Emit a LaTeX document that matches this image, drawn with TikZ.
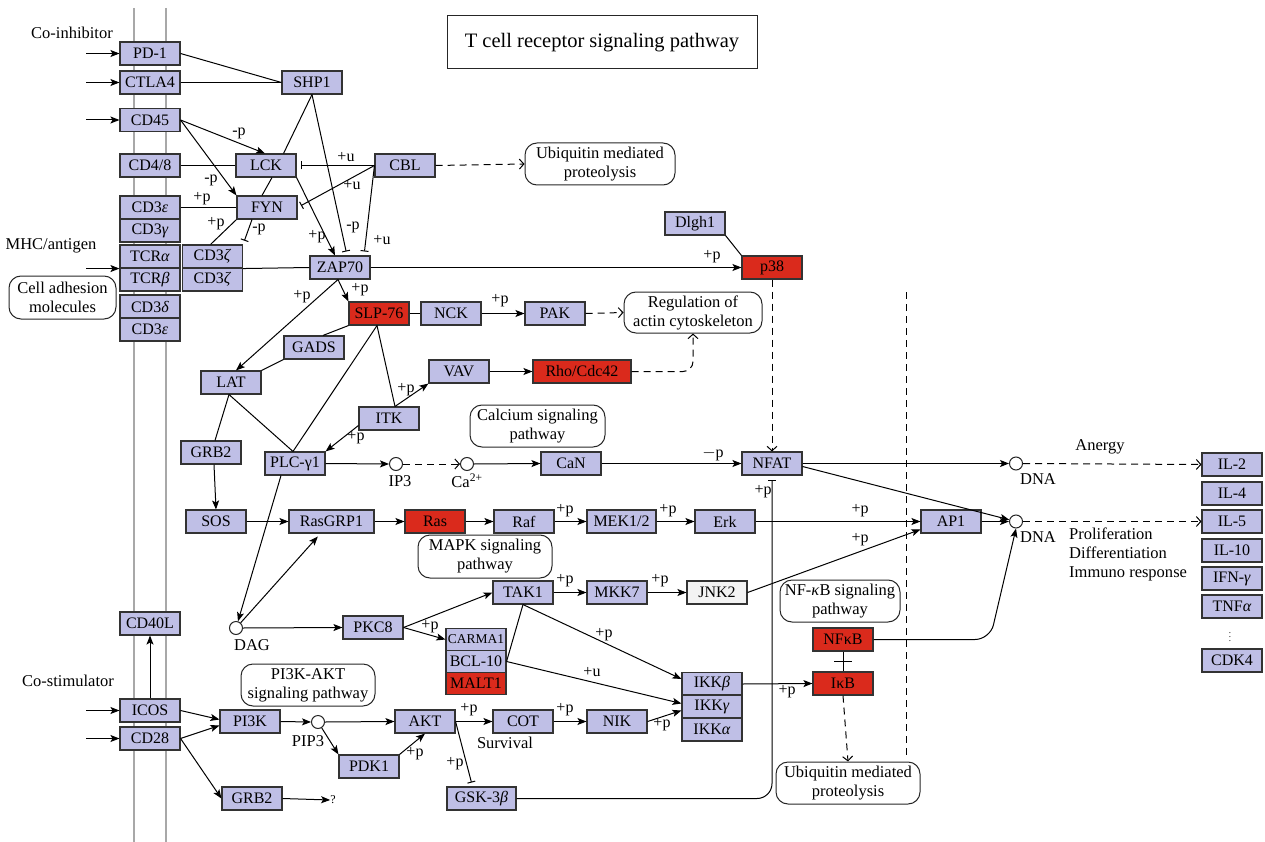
\documentclass[tikz,border=0pt]{standalone}
\usepackage{fontspec}
\setmainfont{Liberation Serif}
\usetikzlibrary{arrows.meta}
\definecolor{genefill}{HTML}{BFBFE6}
\definecolor{hitfill}{HTML}{DA2A1C}
\definecolor{palefill}{HTML}{F3F3F3}
\definecolor{membrane}{HTML}{A8A8A8}
\tikzset{
  gene/.style={draw=black!80, line width=1.1, fill=genefill, minimum width=60, minimum height=23, inner sep=1, font=\fontsize{16}{16}\selectfont},
  hit/.style={gene, fill=hitfill},
  pale/.style={gene, fill=palefill},
  pathway/.style={draw=black!85, line width=1, rounded corners=12, align=center, inner sep=2, font=\fontsize{16.5}{19}\selectfont},
  cpd/.style={circle, draw=black!85, line width=1, fill=white, minimum size=13, inner sep=0},
  txt/.style={font=\fontsize{16.5}{19}\selectfont, inner sep=1},
  lab/.style={font=\fontsize{16}{16}\selectfont, inner sep=0},
  link/.style={line width=1},
  act/.style={line width=1, -{Stealth[length=9, width=7, inset=2]}},
  inh/.style={line width=1, -{Bar[width=8, line width=1]}, shorten >=4},
  ind/.style={line width=1, dash pattern=on 7 off 5, -{Straight Barb[length=4.5, width=10]}}
}
\begin{document}
\begin{tikzpicture}[x=1pt, y=-1pt]
\useasboundingbox (0,0) rectangle (1265,842);
\draw[membrane, line width=1.4] (134,8) -- (134,842);
\draw[membrane, line width=1.4] (166,8) -- (166,842);
\draw[line width=1, dash pattern=on 7 off 5] (906,292) -- (906,755);

\node[draw=black!85, line width=1, minimum width=310, minimum height=53, font=\fontsize{20.5}{22}\selectfont] (title) at (602,42.5) {T cell receptor signaling pathway};

\node[txt] (coinh) at (72,33) {Co-inhibitor};
\node[txt] (mhc) at (51,246) {MHC/antigen};
\node[txt] (costim) at (68,681) {Co-stimulator};

\node[gene] (PD1) at (150,53.5) {PD-1};
\node[gene] (CTLA4) at (150,82.5) {CTLA4};
\node[gene] (CD45) at (150,120) {CD45};
\node[gene] (CD48) at (150,165.5) {CD4/8};
\node[gene] (CD3e) at (150,207.5) {CD3\textit{ε}};
\node[gene] (CD3g) at (150,230.5) {CD3\textit{γ}};
\node[gene] (TCRa) at (150,256.5) {TCR\textit{α}};
\node[gene] (TCRb) at (150,279.5) {TCR\textit{β}};
\node[gene] (CD3d) at (150,306.5) {CD3\textit{δ}};
\node[gene] (CD3e2) at (150,329.5) {CD3\textit{ε}};
\node[gene] (CD3z) at (212.5,256.5) {CD3\textit{ζ}};
\node[gene] (CD3z2) at (212.5,279.5) {CD3\textit{ζ}};
\node[gene] (CD40L) at (150,623.5) {CD40L};
\node[gene] (ICOS) at (150,710.5) {ICOS};
\node[gene] (CD28) at (150,738.5) {CD28};
\node[pathway, minimum width=107, minimum height=43] (cam) at (62.5,297.5) {Cell adhesion\\molecules};

\node[gene] (SHP1) at (312,82.5) {SHP1};
\node[gene] (LCK) at (266,165.5) {LCK};
\node[gene] (FYN) at (267,207.5) {FYN};
\node[gene] (CBL) at (405,165.5) {CBL};
\node[gene] (ZAP70) at (340,267.5) {ZAP70};
\node[hit] (SLP76) at (379,313.5) {SLP-76};
\node[gene] (NCK) at (451,313.5) {NCK};
\node[gene] (PAK) at (555,313.5) {PAK};
\node[gene] (Dlgh1) at (695,223.5) {Dlgh1};
\node[hit] (p38) at (772,267.5) {p38};
\node[gene] (GADS) at (314,347.5) {GADS};
\node[gene] (LAT) at (231,382.5) {LAT};
\node[gene] (VAV) at (459,371.5) {VAV};
\node[hit, minimum width=98] (Rho) at (582,371.5) {Rho/Cdc42};
\node[gene] (ITK) at (389,418.5) {ITK};
\node[gene] (GRB2a) at (211,452.5) {GRB2};
\node[gene] (PLC) at (295,463.5) {PLC-γ1};
\node[gene] (CaN) at (571,463.5) {CaN};
\node[gene] (NFAT) at (772,463.5) {NFAT};
\node[gene] (SOS) at (216,521.5) {SOS};
\node[gene, minimum width=85] (RasGRP1) at (331.5,521.5) {RasGRP1};
\node[hit] (Ras) at (435,521.5) {Ras};
\node[gene] (Raf) at (524,521.5) {Raf};
\node[gene, minimum width=69] (MEK) at (621.5,521.5) {MEK1/2};
\node[gene] (Erk) at (725,521.5) {Erk};
\node[gene] (AP1) at (951,521.5) {AP1};
\node[gene] (TAK1) at (523,592.5) {TAK1};
\node[gene] (MKK7) at (617,592.5) {MKK7};
\node[pale] (JNK2) at (717,592.5) {JNK2};
\node[hit] (NFkB) at (843,639.5) {NFκB};
\node[hit] (IkB) at (843,683.5) {IκB};
\node[gene] (PKC8) at (373,627.5) {PKC8};
\node[gene, minimum height=21.5, font=\fontsize{13.5}{14}\selectfont] (CARMA1) at (476,639.5) {CARMA1};
\node[gene, minimum height=22] (BCL10) at (476,661.5) {BCL-10};
\node[hit, minimum height=22] (MALT1) at (476,683.5) {MALT1};
\node[gene] (IKKb) at (712,684) {IKK\textit{β}};
\node[gene] (IKKg) at (712,706.5) {IKK\textit{γ}};
\node[gene] (IKKa) at (712,729.5) {IKK\textit{α}};
\node[gene] (PI3K) at (250,721.5) {PI3K};
\node[gene] (AKT) at (425,721.5) {AKT};
\node[gene] (PDK1) at (369,766.5) {PDK1};
\node[gene] (COT) at (523,721.5) {COT};
\node[gene] (NIK) at (617,721.5) {NIK};
\node[gene] (GRB2b) at (252,798.5) {GRB2};
\node[gene, minimum width=69] (GSK) at (481.5,798.5) {GSK-3\textit{β}};
\node[lab, font=\fontsize{12}{12}\selectfont] (unk) at (333,800) {?};

\node[cpd] (IP3) at (396,464) {};
\node[cpd] (Ca) at (467,464) {};
\node[cpd] (DNA1) at (1016,463.5) {};
\node[cpd] (DNA2) at (1016,521.5) {};
\node[cpd] (DAG) at (236,628) {};
\node[cpd] (PIP3) at (318,722) {};
\node[txt] (IP3t) at (400,481) {IP3};
\node[txt] (Cat) at (467,481) {Ca\textsuperscript{2+}};
\node[txt] (DAGt) at (252,645) {DAG};
\node[txt] (PIP3t) at (308,741) {PIP3};
\node[txt] (surv) at (505,743) {Survival};
\node[txt] (DNA1t) at (1038,479) {DNA};
\node[txt] (DNA2t) at (1038,537) {DNA};
\node[txt] (anergy) at (1100,447) {Anergy};
\node[txt, align=left, anchor=north west] (prolif) at (1068,527) {Proliferation\\Differentiation\\Immuno response};

\node[pathway, minimum width=150, minimum height=42] (ubq1) at (600,164) {Ubiquitin mediated\\proteolysis};
\node[pathway, minimum width=138, minimum height=41] (actin) at (693,312.5) {Regulation of\\actin cytoskeleton};
\node[pathway, minimum width=135, minimum height=42] (calc) at (537.5,426) {Calcium signaling\\pathway};
\node[pathway, minimum width=134, minimum height=43] (mapk) at (485,556.5) {MAPK signaling\\pathway};
\node[pathway, minimum width=120, minimum height=42] (nfkbpw) at (840,601) {NF-\textit{κ}B signaling\\pathway};
\node[pathway, minimum width=134, minimum height=42] (pi3kpw) at (308,685) {PI3K-AKT\\signaling pathway};
\node[pathway, minimum width=144, minimum height=42] (ubq2) at (848,783) {Ubiquitin mediated\\proteolysis};

\foreach \n/\t/\y in {IL2/IL-2/464.5, IL4/IL-4/493.5, IL5/IL-5/521.5, IL10/IL-10/550.5, IFNG/IFN-\textit{γ}/578.5, TNFA/TNF\textit{α}/606.5, CDK4/CDK4/660.5}
{
    \node[gene] (\n) at (1232,\y) {\t};
}
\node[font=\fontsize{9}{9}\selectfont] (dots) at (1230,634) {$\vdots$};

\foreach \n in {PD1,CTLA4,CD45,ICOS,CD28}
{
    \coordinate (in\n) at ([xshift=-33]\n.west);
    \draw[act] (in\n) -- (\n.west);
}
\coordinate (inTCR) at ([xshift=-33]TCRa.south west);
\draw[act] (inTCR) -- (TCRa.south west);

\draw[link] (PD1.east) -- (SHP1.west);
\draw[link] (CTLA4.east) -- (SHP1.west);
\draw[link] (SHP1.south) -- ([xshift=-13]LCK.north east);
\draw[inh] (SHP1.south) -- ([xshift=7]ZAP70.north) node[lab] at (353,227) {-p};
\draw[act] (CD45.east) -- ([xshift=-1]LCK.north) node[lab] at (239,133) {-p};
\draw[act] (CD45.east) -- (FYN.north west) node[lab] at (211,180) {-p};
\draw[link] (CD48.east) -- (LCK.west);
\draw[link] ([xshift=6]LCK.south) -- ([xshift=-5]FYN.north);
\draw[act] (LCK.south east) -- ([xshift=-5]ZAP70.north) node[lab] at (317,237) {+p};
\draw[inh] (CBL.west) -- (LCK.east) node[lab] at (346,157) {+u};
\draw[inh] (CBL.west) -- (FYN.east) node[lab] at (352,185) {+u};
\draw[inh] (CBL.west) -- ([xshift=24]ZAP70.north) node[lab] at (382,240) {+u};
\draw[ind] (CBL.east) -- (ubq1.west);
\draw[link] (CD3e.east) -- (FYN.west) node[lab] at (202,199) {+p};
\draw[link] (FYN.south west) -- ([xshift=-2]CD3z.north) node[lab] at (216,224) {+p};
\draw[inh] ([xshift=-15]FYN.south) -- (CD3z.north east) node[lab] at (259,229) {-p};
\draw[link] (CD3z.south east) -- (ZAP70.west);
\draw[act] (ZAP70.east) -- (p38.west) node[lab] at (712,257) {+p};
\draw[link] (Dlgh1.south east) -- (p38.north west);
\draw[ind] (p38.south) -- (NFAT.north);
\draw[act] ([xshift=-2]ZAP70.south) -- (SLP76.north west) node[lab] at (360,290) {+p};
\draw[act] ([xshift=-2]ZAP70.south) -- ([xshift=5]LAT.north) node[lab] at (302,297) {+p};
\draw[link] (SLP76.east) -- (NCK.west);
\draw[act] (NCK.east) -- (PAK.west) node[lab] at (500,301) {+p};
\draw[ind] (PAK.east) -- (actin.west);
\draw[link] (SLP76.south west) -- ([xshift=9]GADS.north);
\draw[link] (GADS.south west) -- (LAT.north east);
\draw[link] ([xshift=-2]SLP76.south) -- ([xshift=-2]PLC.north);
\draw[link] ([xshift=-2]SLP76.south) -- ([xshift=6]ITK.north);
\draw[act] ([xshift=6]ITK.north) -- (VAV.south west) node[lab] at (406,390) {+p};
\draw[act] ([yshift=-7]ITK.west) -- (PLC.north east) node[lab] at (356,438) {+p};
\draw[act] (VAV.east) -- (Rho.west);
\draw[ind, rounded corners=10] (Rho.east) -- (actin.south |- Rho.east) -- (actin.south);
\draw[link] ([xshift=-2]LAT.south) -- ([xshift=4]GRB2a.north);
\draw[link] ([xshift=-2]LAT.south) -- ([xshift=-2]PLC.north);
\draw[act] ([xshift=3]GRB2a.south) -- (SOS.north);
\draw[act] (SOS.east) -- (RasGRP1.west);
\draw[act] ([xshift=-14]PLC.south) -- (DAG);
\draw[act] (PLC.east) -- (IP3.west);
\draw[ind] (IP3.east) -- (Ca.west);
\draw[act] (Ca.east) -- (CaN.west);
\draw[act] (CaN.east) -- (NFAT.west) node[lab] at (713,454) {$-$p};
\draw[act] (NFAT.east) -- (DNA1.west);
\draw[act] ([yshift=-3]NFAT.east) -- (DNA2);
\draw[act, shorten >=4] (DAG) -- ([xshift=-11]RasGRP1.south);
\draw[act] (DAG.east) -- (PKC8.west);
\draw[act] (RasGRP1.east) -- (Ras.west);
\draw[act] (Ras.east) -- (Raf.west);
\draw[act] (Raf.east) -- (MEK.west) node[lab] at (565,511) {+p};
\draw[act] (MEK.east) -- (Erk.west) node[lab] at (668,511) {+p};
\draw[act] (Erk.east) -- (AP1.west) node[lab] at (860,511) {+p};
\draw[act] (JNK2.east) -- ([yshift=-8]AP1.west) node[lab] at (860,540) {+p};
\draw[act] (AP1.east) -- (DNA2.west);
\draw[ind] (DNA1.east) -- (IL2.west);
\draw[ind] (DNA2.east) -- (IL5.west);
\draw[act, rounded corners=15] (NFkB.east) -- (990,639.5) -- (DNA2.south);
\draw[act] (PKC8.east) -- (TAK1.west);
\draw[act] (PKC8.east) -- (CARMA1.west) node[lab] at (430,627) {+p};
\draw[act] (TAK1.east) -- (MKK7.west) node[lab] at (565,581) {+p};
\draw[act] (MKK7.east) -- (JNK2.west) node[lab] at (660,581) {+p};
\draw[act] (TAK1.south) -- ([yshift=5]IKKb.west) node[lab] at (604,635) {+p};
\draw[link] (BCL10.east) -- (TAK1.south);
\draw[act] (BCL10.east) -- ([yshift=3]IKKg.west) node[lab] at (592,672) {+u};
\draw[act] (IKKb.east) -- (IkB.west) node[lab] at (787,692) {+p};
\draw[link] (NFkB.south) -- (IkB.north) coordinate[midway] (nfbar);
\draw[link] ([xshift=-9]nfbar) -- ([xshift=9]nfbar);
\draw[ind] (IkB.south) -- (ubq2.north);
\draw[act] (ICOS.north) -- (CD40L.south);
\draw[act] (ICOS.east) -- ([yshift=2]PI3K.west);
\draw[act] (CD28.east) -- ([yshift=-4]PI3K.west);
\draw[act] (CD28.east) -- (GRB2b.west);
\draw[act] (GRB2b.east) -- (unk.west);
\draw[act] (PI3K.east) -- (PIP3.west);
\draw[act] (PIP3.east) -- (AKT.west);
\draw[act] (PIP3) -- (PDK1.north west);
\draw[act] (PDK1.north east) -- (AKT.south) node[lab] at (415,754) {+p};
\draw[act] (AKT.east) -- (COT.west) node[lab] at (469,710) {+p};
\draw[act] (COT.east) -- (NIK.west) node[lab] at (565,710) {+p};
\draw[act] (NIK.east) -- ([yshift=-4]IKKg.west) node[lab] at (662,725) {+p};
\draw[inh] (AKT.east) -- ([xshift=-9]GSK.north) node[lab] at (455,764) {+p};
\draw[inh, rounded corners=15] (GSK.east) -- (NFAT.south |- GSK.east) -- (NFAT.south) node[lab] at (763,492) {+p};
\end{tikzpicture}
\end{document}
